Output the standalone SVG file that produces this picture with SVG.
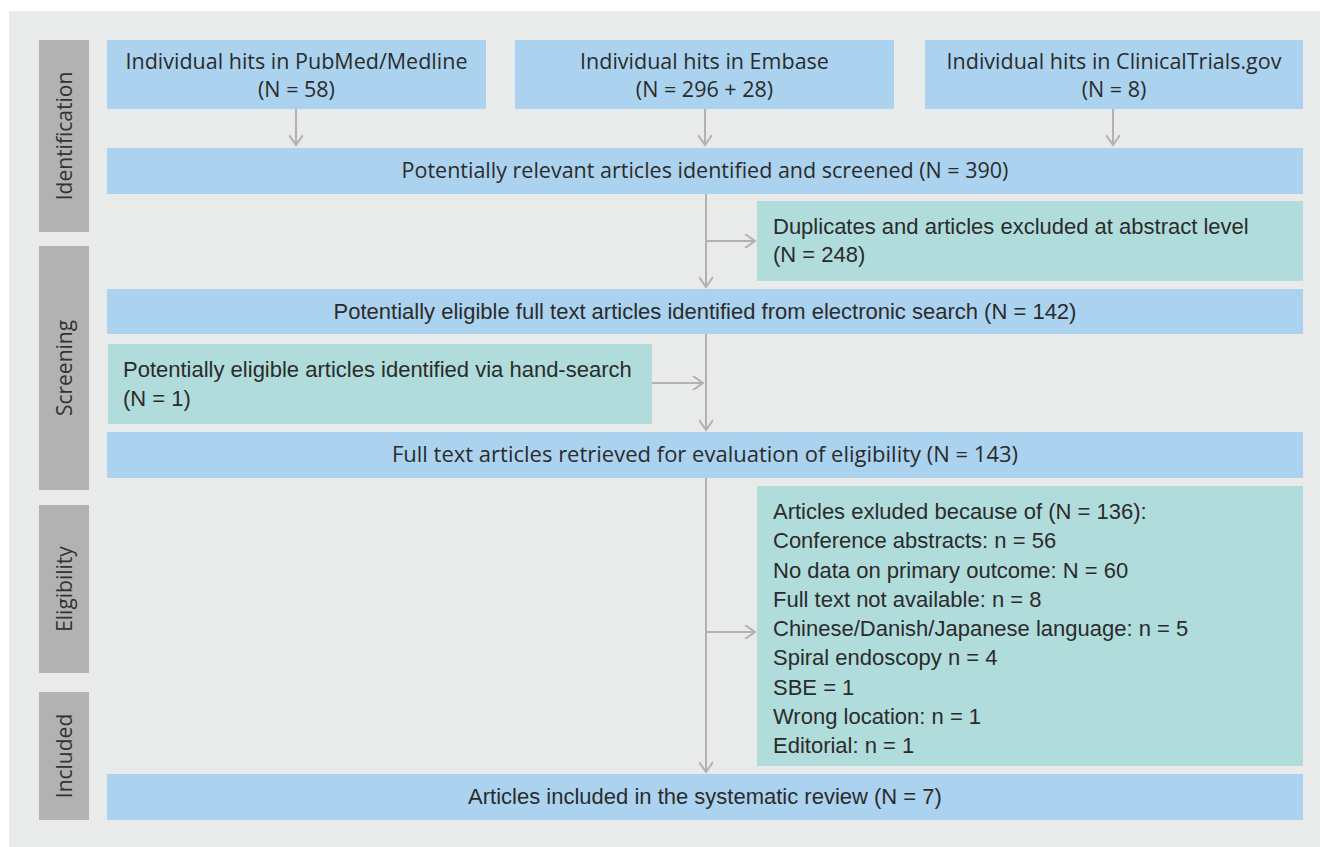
<svg xmlns="http://www.w3.org/2000/svg" width="1320" height="847" viewBox="0 0 1320 847">
<style>
.bg{fill:#e9ebea}
.side{fill:#b2b2b3}
.blue{fill:#abd3ef}
.teal{fill:#b0dddb}
.t{font-family:"Open Sans","Liberation Sans",sans-serif;font-size:21.5px;fill:#2b2b2b}
.c{font-family:"Liberation Sans",Arial,sans-serif;font-size:22px;fill:#2b2b2b}
.s{font-family:"Open Sans","Liberation Sans",sans-serif;font-size:21px;fill:#333}
.m{text-anchor:middle}
.ln{stroke:#b1b1b1;stroke-width:2;fill:none}
</style>
<defs>
<marker id="ah" markerWidth="14" markerHeight="14" refX="11" refY="7" orient="auto" markerUnits="userSpaceOnUse">
<path d="M1,0 L11,7 L1,14" fill="none" stroke="#b1b1b1" stroke-width="2"/>
</marker>
</defs>
<rect x="0" y="0" width="1320" height="847" fill="#ffffff"/>
<rect class="bg" x="9" y="11" width="1311" height="836"/>
<g id="stage-identification"><rect class="side" x="39" y="40" width="50" height="192"/><text class="s m" transform="translate(72,136) rotate(-90)">Identification</text></g>
<g id="stage-screening"><rect class="side" x="39" y="246" width="50" height="244"/><text class="s m" transform="translate(72,368) rotate(-90)">Screening</text></g>
<g id="stage-eligibility"><rect class="side" x="39" y="505" width="50" height="168"/><text class="s m" transform="translate(72,589) rotate(-90)">Eligibility</text></g>
<g id="stage-included"><rect class="side" x="39" y="692" width="50" height="128"/><text class="s m" transform="translate(72,756) rotate(-90)">Included</text></g>
<g id="pubmed"><rect class="blue" x="107" y="40" width="379" height="69"/><text class="t m" x="296.5" y="69">Individual hits in PubMed/Medline</text><text class="t m" x="296.5" y="97">(N = 58)</text></g>
<g id="embase"><rect class="blue" x="515" y="40" width="379" height="69"/><text class="t m" x="704.5" y="69">Individual hits in Embase</text><text class="t m" x="704.5" y="97">(N = 296 + 28)</text></g>
<g id="clinicaltrials"><rect class="blue" x="925" y="40" width="378" height="69"/><text class="t m" x="1114" y="69">Individual hits in ClinicalTrials.gov</text><text class="t m" x="1114" y="97">(N = 8)</text></g>
<g id="relevant"><rect class="blue" x="107" y="148" width="1196" height="46"/><text class="t m" x="705" y="178">Potentially relevant articles identified and screened (N = 390)</text></g>
<g id="duplicates"><rect class="teal" x="757" y="201" width="546" height="80"/><text class="c" x="773" y="234">Duplicates and articles excluded at abstract level</text><text class="c" x="773" y="262">(N = 248)</text></g>
<g id="eligible"><rect class="blue" x="107" y="289" width="1196" height="45"/><text class="c m" x="705" y="319">Potentially eligible full text articles identified from electronic search (N = 142)</text></g>
<g id="handsearch"><rect class="teal" x="108" y="344" width="544" height="80"/><text class="c" x="123" y="377">Potentially eligible articles identified via hand-search</text><text class="c" x="123" y="406">(N = 1)</text></g>
<g id="retrieved"><rect class="blue" x="107" y="432" width="1196" height="46"/><text class="t m" x="705" y="462" style="font-size:22px">Full text articles retrieved for evaluation of eligibility (N = 143)</text></g>
<g id="excluded"><rect class="teal" x="757" y="486" width="546" height="280"/>
<text class="c" x="773" y="519">Articles exluded because of (N = 136):</text>
<text class="c" x="773" y="548">Conference abstracts: n = 56</text>
<text class="c" x="773" y="578">No data on primary outcome: N = 60</text>
<text class="c" x="773" y="607">Full text not available: n = 8</text>
<text class="c" x="773" y="636">Chinese/Danish/Japanese language: n = 5</text>
<text class="c" x="773" y="665">Spiral endoscopy n = 4</text>
<text class="c" x="773" y="695">SBE = 1</text>
<text class="c" x="773" y="724">Wrong location: n = 1</text>
<text class="c" x="773" y="753">Editorial: n = 1</text></g>
<g id="included"><rect class="blue" x="107" y="774" width="1196" height="46"/><text class="c m" x="705" y="804">Articles included in the systematic review (N = 7)</text></g>
<g id="connectors">
<line class="ln" x1="296" y1="109" x2="296" y2="145" marker-end="url(#ah)"/>
<line class="ln" x1="705" y1="109" x2="705" y2="145" marker-end="url(#ah)"/>
<line class="ln" x1="1113" y1="109" x2="1113" y2="145" marker-end="url(#ah)"/>
<line class="ln" x1="706" y1="194" x2="706" y2="287" marker-end="url(#ah)"/>
<line class="ln" x1="706" y1="241" x2="755" y2="241" marker-end="url(#ah)"/>
<line class="ln" x1="706" y1="334" x2="706" y2="430" marker-end="url(#ah)"/>
<line class="ln" x1="652" y1="383" x2="703" y2="383" marker-end="url(#ah)"/>
<line class="ln" x1="706" y1="478" x2="706" y2="772" marker-end="url(#ah)"/>
<line class="ln" x1="706" y1="632" x2="755" y2="632" marker-end="url(#ah)"/>
</g>
</svg>
